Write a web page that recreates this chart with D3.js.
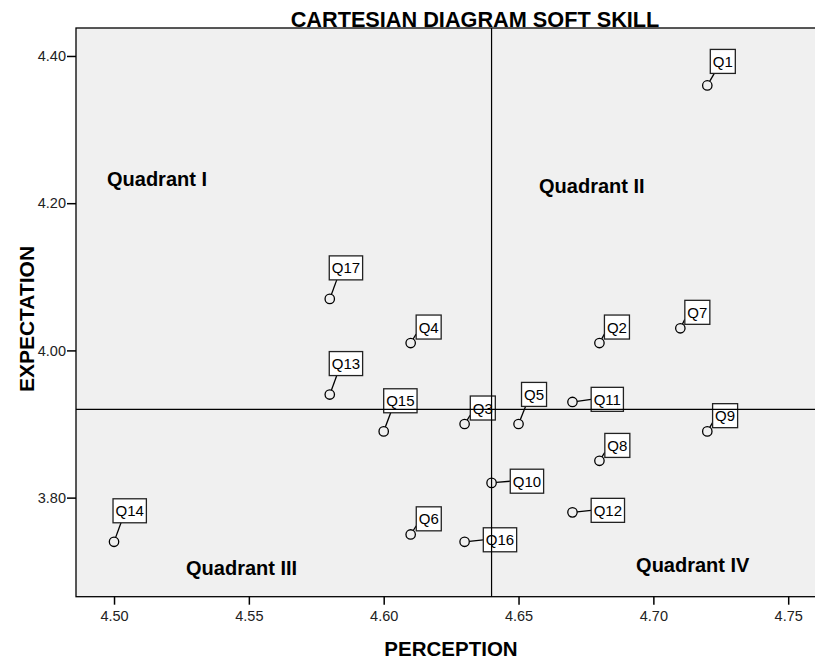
<!DOCTYPE html>
<html>
<head>
<meta charset="utf-8">
<script src="https://cdn.jsdelivr.net/npm/d3@7"></script>
<style>
  body { margin: 0; background: #fff; }
  svg text { font-family: "Liberation Sans", Arial, sans-serif; }
</style>
</head>
<body>
<svg id="chart"></svg>
<script>
// DATA
const items = ["Q1", "Q2", "Q3", "Q4", "Q5", "Q6", "Q7", "Q8", "Q9", "Q10", "Q11", "Q12", "Q13", "Q14", "Q15", "Q16", "Q17"]
const perception = [4.72, 4.68, 4.63, 4.61, 4.65, 4.61, 4.71, 4.68, 4.72, 4.64, 4.67, 4.67, 4.58, 4.50, 4.60, 4.63, 4.58]
const expectation = [4.36, 4.01, 3.90, 4.01, 3.90, 3.75, 4.03, 3.85, 3.89, 3.82, 3.93, 3.78, 3.94, 3.74, 3.89, 3.74, 4.07]
const xTicks = [4.50, 4.55, 4.60, 4.65, 4.70, 4.75]
const yTicks = [3.80, 4.00, 4.20, 4.40]
const meanPerception = 4.64
const meanExpectation = 3.92
const quadrants = ["Quadrant I", "Quadrant II", "Quadrant III", "Quadrant IV"]

// label box offsets from the point (layout only)
const labelOffset = [
	[3, -36], [5, -28], [5.7, -28], [5.5, -28], [3, -41.6], [5.6, -27.6], [4.5, -28], [5.4, -27.4], [5.3, -27.7],
	[18.7, -13.7], [18.7, -14.6], [18.7, -14], [-0.5, -43], [-1, -43], [0, -42.6], [18.7, -14], [-0.5, -43]
]
// where the quadrant names sit, in data units
const quadrantPos = [[4.4974, 4.2234], [4.6576, 4.2139], [4.5267, 3.6948], [4.6936, 3.6989]]

const W = 815, H = 659
const plotLeft = 76, plotTop = 28, plotBottom = 596.7, plotRight = 830

const svg = d3.select("#chart").attr("width", W).attr("height", H)

const x = d3.scaleLinear().domain([4.4859, 4.7655]).range([plotLeft, plotRight])
const y = d3.scaleLinear().domain([3.6654, 4.438]).range([plotBottom, plotTop])

// title
svg.append("text")
	.attr("x", 475).attr("y", 27)
	.attr("text-anchor", "middle")
	.style("font-size", "21.7px").style("font-weight", "bold")
	.text("CARTESIAN DIAGRAM SOFT SKILL")

// plot background
svg.append("rect")
	.attr("x", plotLeft).attr("y", plotTop)
	.attr("width", plotRight - plotLeft).attr("height", plotBottom - plotTop)
	.attr("fill", "#f0f0f0")
	.attr("stroke", "#000").attr("stroke-width", 1.3)

// axes
const xAxis = svg.append("g")
	.attr("transform", "translate(0," + plotBottom + ")")
	.call(d3.axisBottom(x).tickValues(xTicks).tickSize(8).tickSizeOuter(0).tickFormat(d3.format(".2f")))
xAxis.select(".domain").remove()
xAxis.selectAll(".tick line").attr("stroke", "#000").attr("stroke-width", 1.5)
xAxis.selectAll(".tick text").attr("y", 14).style("font-size", "14.5px").attr("fill", "#222")
	.style("font-family", "'Liberation Sans', Arial, sans-serif")

const yAxis = svg.append("g")
	.attr("transform", "translate(" + plotLeft + ",0)")
	.call(d3.axisLeft(y).tickValues(yTicks).tickSize(9).tickSizeOuter(0).tickFormat(d3.format(".2f")))
yAxis.select(".domain").remove()
yAxis.selectAll(".tick line").attr("stroke", "#000").attr("stroke-width", 1.5)
yAxis.selectAll(".tick text").attr("x", -10).style("font-size", "14.5px").attr("fill", "#222")
	.style("font-family", "'Liberation Sans', Arial, sans-serif")

// axis titles
svg.append("text")
	.attr("x", 451).attr("y", 656)
	.attr("text-anchor", "middle")
	.style("font-size", "20.5px").style("font-weight", "bold")
	.text("PERCEPTION")

svg.append("text")
	.attr("transform", "translate(34,319) rotate(-90)")
	.attr("text-anchor", "middle")
	.style("font-size", "21px").style("font-weight", "bold")
	.text("EXPECTATION")

const points = items.map(function(d, i) {
	return {name: d, px: perception[i], ey: expectation[i], off: labelOffset[i]}
})

const r = 4.7
const boxH = 24

const g = svg.append("g")

// label boxes (measure text first)
const labels = g.selectAll("g.lab")
	.data(points)
	.join("g")
	.attr("class", "lab")

labels.append("text")
	.attr("class", "lt")
	.style("font-size", "15px")
	.text(function(d) { return d.name })

labels.each(function(d) {
	const t = d3.select(this).select("text")
	const tw = t.node().getComputedTextLength()
	const cx = x(d.px), cy = y(d.ey)
	d.bx = cx + d.off[0]
	d.by = cy + d.off[1]
	d.bw = tw + 5
	// leader anchor on the box
	let ax, ay
	if (d.off[0] > 12) { ax = d.bx; ay = d.by + boxH / 2 }
	else if (d.off[0] > 4) { ax = d.bx; ay = d.by + boxH - 5 }
	else { ax = cx + 7; ay = d.by + boxH }
	const dx = ax - cx, dy = ay - cy, len = Math.sqrt(dx * dx + dy * dy)
	d.line = len > r ? [cx + dx / len * r, cy + dy / len * r, ax, ay] : null
	t.attr("x", d.bx + 2.5).attr("y", d.by + 17.5)
})

labels.insert("line", "text")
	.attr("x1", function(d) { return d.line ? d.line[0] : 0 })
	.attr("y1", function(d) { return d.line ? d.line[1] : 0 })
	.attr("x2", function(d) { return d.line ? d.line[2] : 0 })
	.attr("y2", function(d) { return d.line ? d.line[3] : 0 })
	.attr("stroke", function(d) { return d.line ? "#000" : "none" })
	.attr("stroke-width", 1.3)

labels.insert("rect", "text")
	.attr("x", function(d) { return d.bx })
	.attr("y", function(d) { return d.by })
	.attr("width", function(d) { return d.bw })
	.attr("height", boxH)
	.attr("fill", "#fff")
	.attr("stroke", "#222")
	.attr("stroke-width", 1.3)

// points
g.selectAll("circle")
	.data(points)
	.join("circle")
	.attr("cx", function(d) { return x(d.px) })
	.attr("cy", function(d) { return y(d.ey) })
	.attr("r", r)
	.attr("fill", "none")
	.attr("stroke", "#000")
	.attr("stroke-width", 1.3)

// mean lines
svg.append("line")
	.attr("x1", x(meanPerception)).attr("x2", x(meanPerception))
	.attr("y1", plotTop).attr("y2", plotBottom)
	.attr("stroke", "#000").attr("stroke-width", 1.2)

svg.append("line")
	.attr("x1", plotLeft).attr("x2", plotRight)
	.attr("y1", y(meanExpectation)).attr("y2", y(meanExpectation))
	.attr("stroke", "#000").attr("stroke-width", 1.2)

// quadrant names
svg.selectAll("text.quad")
	.data(quadrants)
	.join("text")
	.attr("class", "quad")
	.attr("x", function(d, i) { return x(quadrantPos[i][0]) })
	.attr("y", function(d, i) { return y(quadrantPos[i][1]) })
	.style("font-size", "20px").style("font-weight", "bold")
	.text(function(d) { return d })
</script>
</body>
</html>
